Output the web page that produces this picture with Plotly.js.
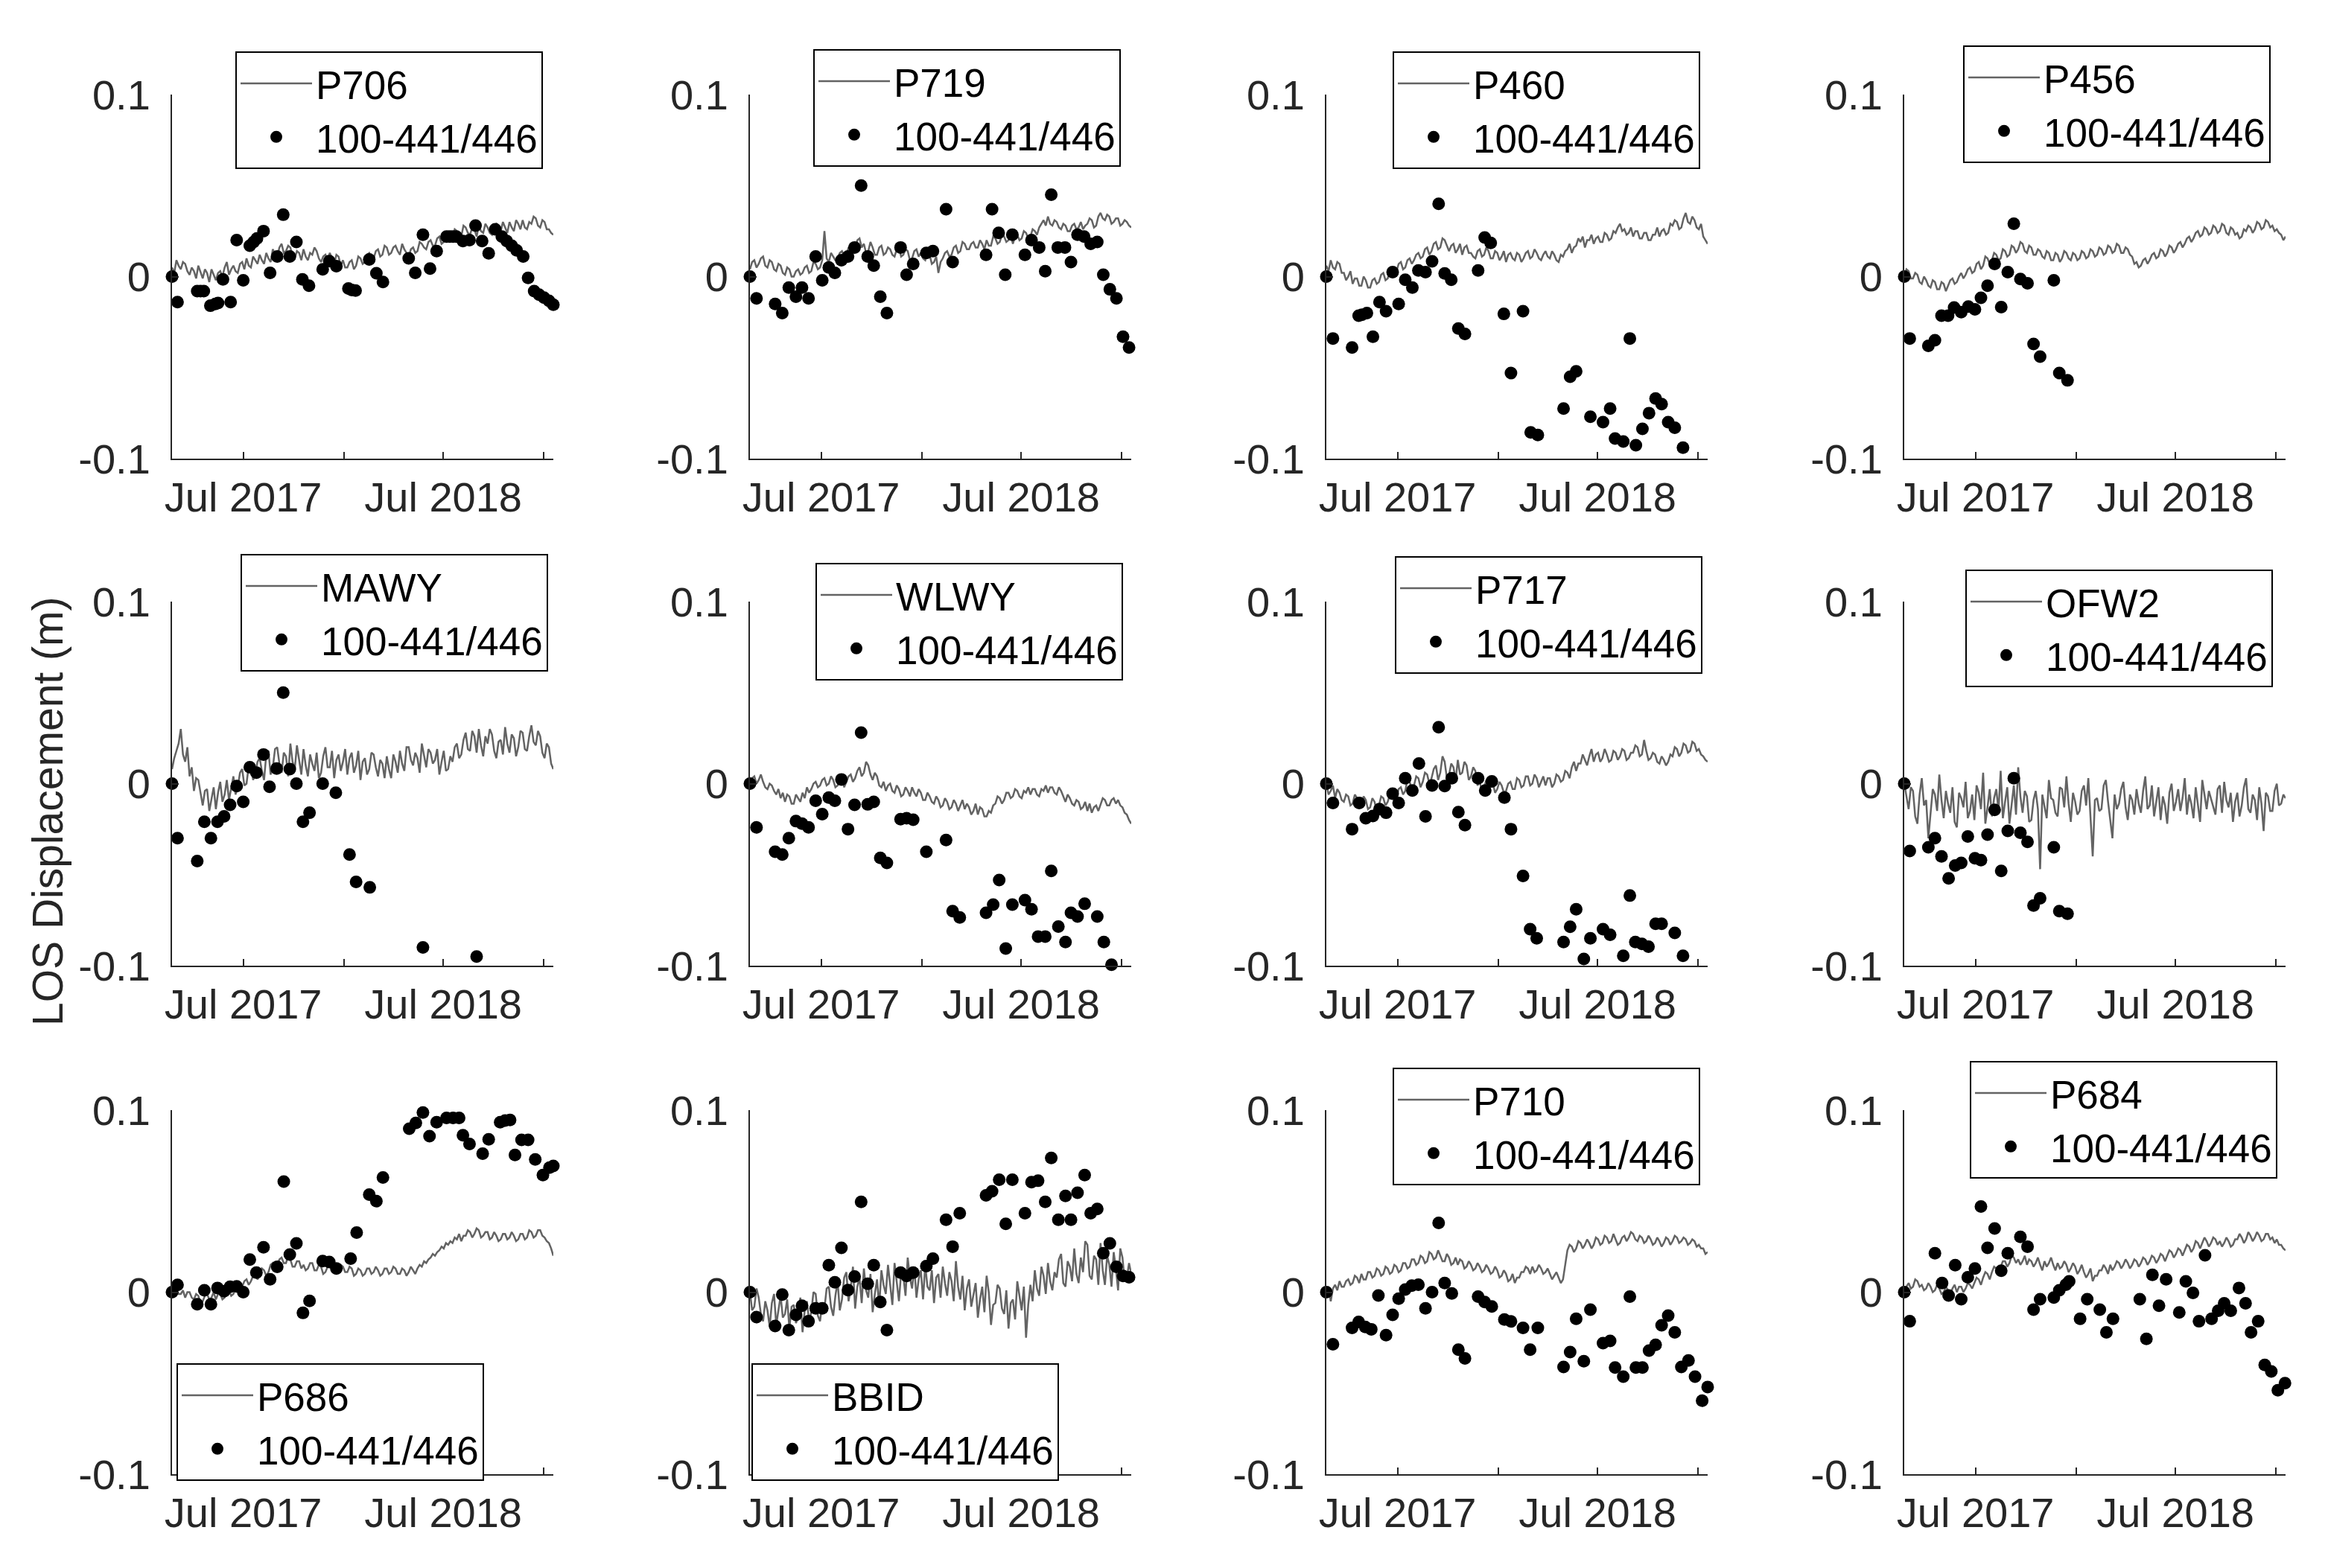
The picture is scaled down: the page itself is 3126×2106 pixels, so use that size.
<!DOCTYPE html>
<html><head><meta charset="utf-8">
<script src="https://cdn.plot.ly/plotly-3.0.1.min.js"></script>
<style>html,body{margin:0;padding:0;background:#fff}</style>
</head><body>
<div id="chart" style="width:3126px;height:2106px"></div>
<script>
// ---------------- DATA ----------------
// time values are days since 2017-01-01
const stationNames = ['P706','P719','P460','P456','MAWY','WLWY','P717','OFW2','P686','BBID','P710','P684'];
const insarLabel = '100-441/446';
const xTickVals = ['2017-07-01','2018-01-01','2018-07-01','2019-01-01'];
const xTickText = ['Jul 2017','','Jul 2018',''];
const yTickVals = [-0.1, 0, 0.1];
const yTickText = ['-0.1','0','0.1'];

// GPS sample days (shared)
const gpsDay = [51,55,59,63,67,71,75,79,83,87,91,95,99,103,107,111,115,119,123,127,131,135,139,143,147,151,155,159,163,167,171,175,179,183,187,191,195,199,203,207,211,215,219,223,227,231,235,239,243,247,251,255,259,263,267,271,275,279,283,287,291,295,299,303,307,311,315,319,323,327,331,335,339,343,347,351,355,359,363,367,371,375,379,383,387,391,395,399,403,407,411,415,419,423,427,431,435,439,443,447,451,455,459,463,467,471,475,479,483,487,491,495,499,503,507,511,515,519,523,527,531,535,539,543,547,551,555,559,563,567,571,575,579,583,587,591,595,599,603,607,611,615,619,623,627,631,635,639,643,647,651,655,659,663,667,671,675,679,683,687,691,695,699,703,707,711,715,719,723,727,731,735,739,743,747];

// GPS LOS displacement (mm)
const gps_P706 = [5,2,9,6,4,8,7,3,1,5,3,-1,6,2,-1,4,2,-3,4,1,-2,2,3,0,5,8,1,4,6,3,2,7,8,4,10,6,5,11,9,7,12,9,7,13,10,8,15,12,11,16,18,13,14,17,16,11,10,14,13,9,15,11,9,13,12,16,14,10,8,11,12,9,13,10,7,12,11,6,9,5,5,8,9,4,6,11,10,7,8,12,13,10,10,14,15,11,12,17,16,12,13,16,17,14,12,18,15,13,11,15,16,13,14,19,18,16,15,19,20,17,17,21,22,18,19,23,24,20,21,26,25,22,22,28,27,24,23,27,26,22,28,25,24,29,27,24,23,28,29,26,25,30,27,24,30,27,25,31,29,26,31,27,26,30,29,33,32,28,27,31,30,26,26,24,23];
const gps_P719 = [4,8,9,5,7,10,11,6,5,9,8,4,3,7,6,2,1,5,4,0,0,3,4,1,2,5,6,2,3,8,7,4,5,9,25,10,8,13,11,9,10,13,14,11,12,16,17,13,15,20,21,16,18,13,14,19,16,12,12,16,17,12,13,16,15,12,11,15,16,11,12,15,14,9,10,14,15,11,13,10,9,14,12,7,8,11,2,8,10,13,14,11,12,16,17,13,14,19,18,15,15,18,19,16,16,20,18,15,20,17,17,22,21,18,19,23,22,19,20,23,18,22,23,20,21,25,24,21,22,26,25,23,27,29,31,28,33,29,28,31,30,27,26,29,28,25,25,28,29,26,27,30,26,28,29,32,31,27,28,33,35,32,31,34,33,29,30,32,32,28,29,31,30,28,27];
const gps_P460 = [6,3,9,5,4,8,7,2,2,-2,0,3,-4,-1,-1,-5,-5,0,-2,-6,-6,-2,-1,-4,-3,1,2,-2,-1,3,5,1,3,7,8,4,5,9,10,7,9,12,13,10,11,15,16,12,14,18,19,15,16,21,20,17,14,17,18,13,15,18,12,16,17,13,13,11,10,14,15,11,12,16,14,10,10,14,13,9,11,14,8,12,13,10,9,13,12,8,10,13,14,10,11,15,13,10,9,12,14,11,10,14,12,9,8,12,11,14,15,18,13,16,17,21,19,22,16,20,20,23,18,21,22,19,19,24,23,20,21,25,24,27,29,25,26,23,24,27,22,25,25,21,21,24,24,20,20,23,23,27,22,25,26,23,24,29,28,31,30,26,27,32,35,30,29,33,31,27,26,29,22,20,18];
const gps_P456 = [0,4,3,-1,-1,2,1,-3,-4,0,-2,-5,-6,-2,-3,-7,-7,-3,-4,-8,-5,-2,-1,-4,-3,0,2,-1,1,4,5,2,3,7,8,4,6,11,10,7,9,13,12,9,10,15,14,11,12,17,16,13,15,19,18,14,13,17,16,12,12,15,14,11,10,14,13,9,9,13,12,8,10,14,13,10,9,13,12,9,10,14,13,10,11,15,14,11,12,16,15,12,13,17,16,13,14,18,17,13,13,16,15,12,11,7,8,5,6,9,10,7,9,12,13,10,11,15,14,11,13,17,16,13,15,18,19,16,18,21,22,19,21,24,25,22,23,27,26,23,24,28,27,24,25,29,28,24,23,27,26,23,24,21,22,26,25,28,27,24,26,30,29,26,27,31,30,27,28,25,26,24,23,20,22];
const gps_MAWY = [8,14,18,22,30,16,12,20,4,9,-4,3,2,-6,-12,-4,-3,-15,-8,-2,-14,-5,1,-10,-6,2,-9,-3,4,-6,-2,6,8,-1,0,10,11,2,5,12,14,7,2,16,18,5,9,19,20,11,6,17,15,4,22,12,8,21,13,5,19,10,4,16,11,7,17,3,6,15,20,9,9,18,3,13,16,7,12,19,5,14,17,6,10,18,2,12,14,5,8,17,16,9,4,13,11,3,15,8,3,16,12,6,18,11,7,20,20,13,10,17,14,6,22,15,9,19,17,11,13,19,5,12,18,7,8,15,12,20,22,14,16,24,28,19,18,29,26,17,30,21,15,26,22,30,27,18,14,23,24,16,31,22,17,27,25,15,20,29,28,19,18,26,32,23,21,29,26,17,14,22,20,11,8];
const gps_WLWY = [0,3,4,0,2,5,1,-2,-3,0,-1,-4,-6,-3,-8,-5,-10,-6,-7,-11,-11,-6,-8,-10,-5,-8,-2,-5,-3,0,1,-2,-1,2,3,-1,0,4,2,-2,-1,2,3,-2,1,4,5,1,3,7,9,4,6,12,10,5,2,6,4,-1,-2,1,-4,-1,0,-4,-5,-1,-3,-7,-6,-2,-4,-7,-2,-5,-7,-3,-5,-9,-9,-5,-7,-10,-11,-7,-9,-13,-12,-8,-10,-14,-13,-9,-11,-15,-12,-9,-14,-11,-13,-17,-15,-11,-17,-13,-14,-18,-18,-15,-16,-12,-11,-7,-8,-11,-9,-5,-5,-8,-7,-3,-4,-7,-8,-4,-5,-2,-6,-3,-3,-6,-7,-3,-4,-1,-5,-2,-2,-5,-6,-2,-4,-7,-10,-6,-8,-11,-12,-9,-10,-14,-13,-10,-15,-11,-16,-13,-12,-15,-11,-8,-9,-12,-12,-9,-8,-11,-9,-12,-13,-16,-17,-20,-22];
const gps_P717 = [0,-6,-4,-1,-8,-3,-5,-9,-10,-6,-7,-12,-11,-6,-8,-13,-12,-7,-9,-14,-13,-8,-10,-15,-12,-7,-8,-12,-10,-6,-5,-9,-7,-3,-2,-6,-4,2,1,-3,-1,4,3,-2,1,6,5,0,3,8,10,2,6,15,12,3,5,11,9,2,13,5,6,12,10,2,4,9,7,-1,1,-4,-2,2,-4,0,0,-5,-3,1,-1,-5,-4,0,1,-3,-3,3,2,-2,-1,4,4,-1,0,5,3,-2,1,4,-1,3,3,-2,0,5,4,1,2,7,6,3,9,12,7,11,11,16,13,10,15,19,12,16,17,12,14,19,16,12,13,18,17,13,15,19,18,13,14,17,17,21,20,15,16,24,18,13,14,17,16,12,11,15,13,10,12,16,15,20,19,15,17,22,21,17,18,23,22,18,19,16,15,13,12];
const gps_OFW2 = [0,-8,-14,-2,-4,-18,-22,-6,3,-12,-9,-30,-17,-3,-6,-15,5,-9,-19,-4,-11,-16,-2,-21,-24,-5,-8,-13,1,-19,-15,-6,-20,-1,-5,-14,6,-22,-13,-3,-18,-8,-3,-15,7,-19,-10,-2,-22,-11,-1,-17,9,-7,-16,-4,-7,-21,-20,-9,-4,-14,-47,-6,-12,-19,2,-8,-9,-16,-18,-2,-3,-13,4,-11,-21,-5,-10,-17,-15,-4,-1,-12,3,-18,-40,-9,-8,-15,-14,-1,2,-10,-19,-30,-6,-14,-11,-3,1,-13,-20,-6,-9,-17,-3,-11,-16,-4,4,-14,-12,-1,-18,-9,-2,-20,-7,-12,-22,-5,0,-15,-10,-3,-15,-8,3,-17,-6,-11,-19,-2,-11,-21,2,-7,-14,-4,-8,-13,-17,-3,-1,-16,1,-9,-13,-5,-21,-10,-5,-18,-12,-2,3,-14,-16,-6,-9,-20,-2,-11,-26,-5,-7,-15,-15,-4,0,-12,-11,-6,-8];
const gps_P686 = [0,-2,2,-1,-1,1,-3,0,0,-3,-4,-1,-2,-6,-5,-2,-1,-4,-3,0,-4,-1,-1,-4,-3,0,1,-2,-1,2,4,1,3,6,7,4,6,9,10,7,9,13,12,9,11,15,16,13,15,18,19,16,16,20,18,14,14,17,17,13,15,12,13,16,16,12,12,15,14,10,11,14,15,12,13,10,12,15,14,11,11,14,13,9,10,13,12,9,10,13,13,10,11,14,12,9,10,13,13,10,11,14,13,10,10,13,12,9,11,14,12,10,13,15,14,17,16,18,19,21,20,22,23,25,24,27,26,28,27,30,29,32,28,31,31,34,33,30,32,35,34,30,31,33,33,29,30,33,31,28,29,32,32,29,30,33,31,28,29,32,32,29,30,34,33,30,31,34,34,31,30,28,27,24,20];
const gps_BBID = [0,-10,-8,2,-3,-12,-16,-5,-10,-19,-6,-1,-18,-9,-2,-14,-12,-4,-20,-8,-7,-17,-14,-3,-22,-10,-5,-16,-11,0,-1,-13,-16,-6,-9,2,3,-8,-13,-2,6,-10,-4,8,11,-5,2,14,-9,3,8,-6,13,1,-3,10,-11,-1,7,-8,12,4,-1,15,4,-7,16,6,-5,11,9,-2,19,8,2,14,-3,7,12,-4,15,3,1,12,-6,8,10,-3,14,5,-2,11,6,-5,17,3,-4,9,-10,2,7,-8,-2,5,-14,-4,3,-11,9,0,-18,-7,-6,4,2,-9,-12,1,-20,-6,-4,-15,6,-3,-10,3,-25,-7,4,-5,12,2,-2,14,9,-1,16,6,1,11,8,18,21,5,3,17,14,6,24,10,5,19,11,28,26,9,7,20,18,4,27,12,4,20,15,3,22,13,1,24,19,6,8,16,10];
const gps_P710 = [0,3,-5,2,4,1,6,3,3,6,7,4,5,9,8,5,10,7,7,11,11,8,9,13,12,9,10,14,13,10,11,15,14,11,12,16,16,13,14,18,18,15,16,20,19,16,17,22,21,18,19,23,20,17,17,21,19,15,16,19,15,18,17,13,14,17,15,12,13,16,14,11,12,15,13,10,11,14,12,8,9,12,10,6,7,10,5,8,8,11,11,14,13,10,14,11,12,15,13,10,11,13,10,7,9,11,8,5,7,16,23,26,25,22,24,28,27,24,26,29,27,24,26,30,29,26,27,31,30,27,28,32,29,26,27,30,31,28,30,33,32,29,28,31,30,27,28,31,29,26,27,30,28,25,27,30,29,26,28,31,30,27,28,30,29,26,27,29,28,25,26,24,24,21,22];
const gps_P684 = [0,3,5,2,3,7,6,3,4,1,2,5,3,0,1,4,2,-1,0,3,1,-2,2,4,0,3,3,0,2,5,4,2,5,8,7,4,8,11,10,7,11,14,13,10,14,17,17,14,16,20,19,16,18,15,17,20,15,18,17,14,16,19,15,12,17,14,16,19,15,12,16,13,14,17,15,11,13,16,14,10,12,15,11,8,10,13,6,9,9,12,12,15,13,10,15,12,14,17,16,13,15,18,16,13,15,18,17,14,16,19,18,15,17,20,19,16,18,21,20,17,20,23,22,19,21,24,23,20,23,26,25,22,24,28,27,24,27,30,28,25,27,30,29,26,28,25,27,30,28,25,26,29,29,32,30,27,29,33,31,28,30,33,31,28,29,32,32,29,30,27,29,26,26,24,23];

// InSAR (track 100-441/446) acquisition days and LOS displacement (m)
const sarDay_P706 = [51,61,97,103,109,121,130,135,144,158,169,181,193,200,206,218,230,243,254,266,278,289,301,326,338,351,373,379,386,411,424,436,483,495,509,522,534,552,558,564,570,582,594,605,617,629,641,653,662,671,680,692,701,712,721,730,739,747];
const sarLos_P706 = [0,-0.014,-0.008,-0.008,-0.008,-0.016,-0.015,-0.0145,-0.0015,-0.014,0.020,-0.002,0.017,0.019,0.021,0.025,0.002,0.011,0.034,0.011,0.019,-0.0015,-0.005,0.004,0.0085,0.0057,-0.0065,-0.0074,-0.0077,0.0094,0.0018,-0.003,0.010,0.002,0.023,0.0044,0.014,0.022,0.022,0.022,0.022,0.0195,0.020,0.028,0.0195,0.0128,0.026,0.022,0.0195,0.017,0.0144,0.011,-0.0007,-0.008,-0.0099,-0.0116,-0.0133,-0.0154];
const sarDay_P719 = [51,63,97,110,122,135,146,158,171,183,195,206,218,230,242,254,266,277,289,301,326,337,349,373,385,409,421,482,493,505,517,530,553,565,579,590,601,613,626,637,649,661,673,685,696,708,720,732,743];
const sarLos_P719 = [0,-0.012,-0.015,-0.020,-0.006,-0.011,-0.006,-0.012,0.011,-0.002,0.005,0.002,0.009,0.011,0.016,0.050,0.011,0.006,-0.011,-0.020,0.016,0.001,0.007,0.013,0.014,0.037,0.008,0.012,0.037,0.024,0.001,0.023,0.012,0.020,0.016,0.003,0.045,0.016,0.016,0.008,0.023,0.022,0.018,0.019,0.001,-0.007,-0.012,-0.033,-0.039];
const sarDay_P460 = [51,63,98,110,116,125,136,148,160,172,183,195,208,219,232,244,256,267,279,292,304,328,340,351,375,388,410,424,437,484,496,507,533,556,569,578,593,605,616,628,640,652,663,675,687,702];
const sarLos_P460 = [0,-0.034,-0.039,-0.0215,-0.021,-0.020,-0.033,-0.014,-0.019,0.0025,-0.015,-0.0017,-0.006,0.0034,0.0025,0.0084,0.040,0.0017,-0.0017,-0.0285,-0.0315,0.0034,0.0215,0.0185,-0.0205,-0.053,-0.019,-0.0856,-0.087,-0.0725,-0.055,-0.052,-0.077,-0.080,-0.0725,-0.089,-0.0906,-0.034,-0.0926,-0.0836,-0.075,-0.067,-0.070,-0.080,-0.083,-0.094];
const sarDay_P456 = [51,61,95,107,119,131,142,155,168,180,191,203,216,228,240,251,263,276,287,299,324,334,349];
const sarLos_P456 = [0,-0.034,-0.038,-0.035,-0.0215,-0.0215,-0.017,-0.0195,-0.0165,-0.018,-0.0117,-0.005,0.007,-0.0168,0.0025,0.029,-0.0013,-0.0037,-0.037,-0.044,-0.002,-0.053,-0.057];
const sarDay_MAWY = [51,61,97,110,122,134,146,157,169,181,193,205,218,229,242,254,266,278,290,302,326,350,375,387,412,509,607];
const sarLos_MAWY = [0,-0.030,-0.0425,-0.021,-0.030,-0.021,-0.018,-0.0117,-0.0013,-0.010,0.009,0.006,0.016,-0.0017,0.0083,0.050,0.008,0,-0.021,-0.016,0,-0.005,-0.039,-0.054,-0.057,-0.090,-0.095];
const sarDay_WLWY = [51,63,97,110,122,135,146,158,171,183,195,206,218,230,242,254,266,277,289,301,326,337,349,373,409,421,434,482,495,506,518,530,553,565,577,590,601,614,627,637,649,662,685,697,711];
const sarLos_WLWY = [0,-0.024,-0.0374,-0.039,-0.030,-0.0206,-0.022,-0.024,-0.0094,-0.0168,-0.0077,-0.0094,0.0023,-0.025,-0.0117,0.028,-0.0114,-0.010,-0.0408,-0.0436,-0.0195,-0.019,-0.0198,-0.0374,-0.031,-0.070,-0.0735,-0.071,-0.0665,-0.053,-0.0906,-0.0665,-0.064,-0.069,-0.084,-0.084,-0.048,-0.0785,-0.087,-0.071,-0.073,-0.066,-0.073,-0.087,-0.0995];
const sarDay_P717 = [51,63,98,111,123,136,148,160,172,183,195,208,220,232,244,256,267,280,292,304,328,341,353,376,388,410,423,435,484,496,507,521,533,556,569,593,605,615,627,639,652,663,687,702];
const sarLos_P717 = [0,-0.0106,-0.025,-0.0106,-0.019,-0.0178,-0.014,-0.016,-0.0055,-0.0106,0.003,-0.0038,0.011,-0.018,-0.001,0.031,-0.0013,0.003,-0.0156,-0.0228,0.003,-0.0038,0.0012,-0.0077,-0.025,-0.0507,-0.080,-0.085,-0.087,-0.0786,-0.069,-0.0963,-0.085,-0.080,-0.083,-0.0946,-0.0615,-0.087,-0.088,-0.0896,-0.077,-0.077,-0.082,-0.0946];
const sarDay_OFW2 = [51,61,95,107,119,132,144,155,167,180,191,203,216,228,240,251,263,276,287,299,324,334,349];
const sarLos_OFW2 = [0,-0.037,-0.035,-0.030,-0.040,-0.052,-0.045,-0.0436,-0.029,-0.041,-0.042,-0.028,-0.0144,-0.048,-0.026,0.003,-0.027,-0.032,-0.067,-0.063,-0.035,-0.070,-0.0715];
const sarDay_P686 = [51,61,97,110,122,134,146,157,169,181,193,205,218,230,243,255,266,278,290,302,326,338,351,377,388,411,424,436,484,496,509,521,534,552,564,575,582,594,618,629,650,659,668,677,689,701,714,728,740,747];
const sarLos_P686 = [0,0.004,-0.0066,0.001,-0.0066,0.0023,0.0005,0.003,0.0032,0,0.0179,0.0107,0.0246,0.0071,0.0139,0.0607,0.0207,0.0268,-0.0114,-0.0048,0.0171,0.0166,0.013,0.0184,0.0327,0.0536,0.05,0.063,0.0898,0.0929,0.0987,0.0857,0.0934,0.0957,0.0957,0.0957,0.0862,0.0814,0.0761,0.0839,0.0934,0.0943,0.0946,0.0754,0.0836,0.0836,0.0729,0.0643,0.0684,0.0693];
const sarDay_BBID = [51,63,97,110,122,135,146,158,171,183,195,206,218,230,242,254,266,277,289,301,326,337,349,373,385,409,421,434,482,493,506,518,530,553,565,577,590,601,614,627,637,649,662,673,685,696,708,720,732,743];
const sarLos_BBID = [0,-0.0137,-0.0186,-0.0013,-0.0209,-0.0125,-0.0075,-0.016,-0.0089,-0.0089,0.0148,0.0054,0.0243,0.0011,0.0086,0.0496,0.0046,0.0148,-0.0054,-0.0209,0.0107,0.0089,0.0107,0.0143,0.0184,0.0398,0.025,0.0434,0.0532,0.0554,0.0618,0.0375,0.0618,0.0434,0.0604,0.0612,0.0496,0.0737,0.0398,0.0529,0.0398,0.0546,0.0643,0.0434,0.0457,0.0214,0.0268,0.0139,0.0089,0.0082];
const sarDay_P710 = [51,63,98,110,122,133,146,160,172,183,195,207,219,232,244,256,267,280,292,304,328,340,353,376,388,410,423,437,484,496,507,521,533,556,569,578,593,605,616,628,640,652,663,675,687,699,712,724,737,747];
const sarLos_P710 = [0,-0.0286,-0.0196,-0.0164,-0.0191,-0.0204,-0.0018,-0.0236,-0.0125,-0.0036,0.0014,0.0036,0.0041,-0.0089,0,0.038,0.005,-0.0007,-0.0316,-0.0364,-0.0025,-0.0054,-0.0079,-0.015,-0.0161,-0.0196,-0.0316,-0.0196,-0.0411,-0.0329,-0.0146,-0.0379,-0.0096,-0.028,-0.0268,-0.0414,-0.0464,-0.0025,-0.0414,-0.0414,-0.0321,-0.0289,-0.0182,-0.0129,-0.0221,-0.0411,-0.0375,-0.0464,-0.0596,-0.0521];
const sarDay_P684 = [51,61,107,120,132,144,155,167,180,191,203,216,228,240,263,276,287,299,324,334,346,352,372,385,408,420,432,481,493,504,516,529,553,565,578,589,600,612,624,635,647,662,674,684,697,709,721,733,746];
const sarLos_P684 = [0,-0.016,0.0214,0.005,-0.0018,0.0148,-0.0039,0.0082,0.013,0.047,0.0243,0.035,0.0118,0.0214,0.0304,0.025,-0.0096,-0.0039,-0.003,0.001,0.0041,0.0059,-0.0146,-0.0039,-0.0096,-0.0221,-0.0146,-0.0039,-0.0257,0.0095,-0.0075,0.0071,-0.0111,0.0059,-0.0004,-0.016,0.0202,-0.0146,-0.0102,-0.0061,-0.0102,0.0023,-0.0061,-0.0221,-0.016,-0.04,-0.0436,-0.0539,-0.05];

// ---------------- BUILD ----------------
const gpsByStation = {P706:gps_P706,P719:gps_P719,P460:gps_P460,P456:gps_P456,MAWY:gps_MAWY,WLWY:gps_WLWY,P717:gps_P717,OFW2:gps_OFW2,P686:gps_P686,BBID:gps_BBID,P710:gps_P710,P684:gps_P684};
const sarDayByStation = {P706:sarDay_P706,P719:sarDay_P719,P460:sarDay_P460,P456:sarDay_P456,MAWY:sarDay_MAWY,WLWY:sarDay_WLWY,P717:sarDay_P717,OFW2:sarDay_OFW2,P686:sarDay_P686,BBID:sarDay_BBID,P710:sarDay_P710,P684:sarDay_P684};
const sarLosByStation = {P706:sarLos_P706,P719:sarLos_P719,P460:sarLos_P460,P456:sarLos_P456,MAWY:sarLos_MAWY,WLWY:sarLos_WLWY,P717:sarLos_P717,OFW2:sarLos_OFW2,P686:sarLos_P686,BBID:sarLos_BBID,P710:sarLos_P710,P684:sarLos_P684};

function dayToDate(d){ return new Date(Date.UTC(2017,0,1) + d*86400000).toISOString().slice(0,10); }

const W = 3126, H = 2106;
const FONT = '"Liberation Sans", Arial, Helvetica, sans-serif';
const AX = '#262626';
const colLeft = [231, 1007, 1781, 2557], colW = 512;
const rowTop = [127, 808, 1491], rowH = 489;
const legPos = [[316,69],[1092,66],[1870,69],[2636,61],[323,744],[1095,756],[1873,747],[2639,765],[237,1831],[1009,1831],[1870,1434],[2645,1425]];

const traces = [];
const layout = {
  width: W, height: H, margin: {l:0, r:0, t:0, b:0},
  paper_bgcolor: 'white', plot_bgcolor: 'white',
  font: {family: FONT, size: 56, color: AX},
  showlegend: true,
  annotations: [{
    text: 'LOS Displacement (m)', xref: 'paper', yref: 'paper',
    x: 64/W, y: 1 - 1090/H, xanchor: 'center', yanchor: 'middle',
    textangle: -90, showarrow: false, font: {family: FONT, size: 57, color: AX}
  }]
};

stationNames.forEach((name, i) => {
  const n = i + 1, r = Math.floor(i/4), c = i % 4;
  const xa = n === 1 ? 'x' : 'x' + n, ya = n === 1 ? 'y' : 'y' + n;
  const leg = n === 1 ? 'legend' : 'legend' + n;
  traces.push({
    type: 'scatter', mode: 'lines', name: name, legend: leg,
    x: gpsDay.map(dayToDate), y: gpsByStation[name].map(v => v/1000),
    xaxis: xa, yaxis: ya, line: {color: '#636363', width: 2.5}, hoverinfo: 'skip'
  });
  traces.push({
    type: 'scatter', mode: 'markers', name: insarLabel, legend: leg,
    x: sarDayByStation[name].map(dayToDate), y: sarLosByStation[name],
    xaxis: xa, yaxis: ya, marker: {color: 'black', size: 17}, cliponaxis: false, hoverinfo: 'skip'
  });
  const x0 = colLeft[c], y0 = rowTop[r];
  layout['xaxis' + (n === 1 ? '' : n)] = {
    type: 'date', domain: [x0/W, (x0+colW)/W], anchor: ya,
    range: [dayToDate(51), dayToDate(747)],
    showline: true, linecolor: AX, linewidth: 2, mirror: false,
    ticks: 'inside', ticklen: 9, tickwidth: 2, tickcolor: AX,
    tickvals: xTickVals, ticktext: xTickText, tickangle: 0,
    tickfont: {family: FONT, size: 56, color: AX}, ticklabelstandoff: 2,
    showgrid: false, zeroline: false, fixedrange: true
  };
  layout['yaxis' + (n === 1 ? '' : n)] = {
    domain: [1 - (y0+rowH)/H, 1 - y0/H], anchor: xa,
    range: [-0.1, 0.1],
    showline: true, linecolor: AX, linewidth: 2, mirror: false,
    ticks: 'inside', ticklen: 9, tickwidth: 2, tickcolor: AX,
    tickvals: yTickVals, ticktext: yTickText,
    tickfont: {family: FONT, size: 56, color: AX}, ticklabelstandoff: 16,
    showgrid: false, zeroline: false, fixedrange: true
  };
  layout[leg] = {
    x: legPos[i][0]/W, y: 1 - legPos[i][1]/H, xanchor: 'left', yanchor: 'top',
    bgcolor: 'white', bordercolor: 'black', borderwidth: 2,
    font: {family: FONT, size: 53, color: 'black'},
    itemwidth: 96, tracegroupgap: 0, itemclick: false, itemdoubleclick: false
  };
});

Plotly.newPlot('chart', traces, layout, {displayModeBar: false, staticPlot: true});
</script>
</body></html>
